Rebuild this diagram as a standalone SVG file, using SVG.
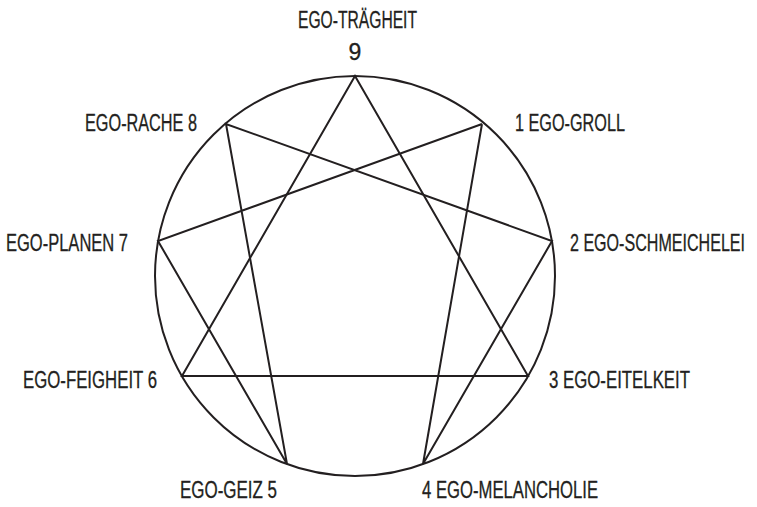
<svg xmlns="http://www.w3.org/2000/svg" width="757" height="507" viewBox="0 0 757 507">
<style>
.l{font-family:"Liberation Sans",Arial,sans-serif;font-size:23px;fill:#231f20;stroke:#231f20;stroke-width:0.3}
.s{fill:none;stroke:#231f20;stroke-width:2;stroke-linejoin:miter}
</style>
<rect width="757" height="507" fill="#fff"/>
<g id="circle"><circle class="s" cx="355" cy="276" r="200"/></g>
<g id="connectors">
<polygon class="s" points="355,76 528,376 182,376"/>
<polyline class="s" points="482,124 423,464 552,241 226,124 287,464 158,241 482,124"/>
</g>
<g id="n9"><text class="l" x="298" y="28" textLength="119" lengthAdjust="spacingAndGlyphs">EGO-TRÄGHEIT</text><text class="l" x="355" y="60" text-anchor="middle">9</text></g>
<g id="n8"><text class="l" x="85" y="131" textLength="112" lengthAdjust="spacingAndGlyphs">EGO-RACHE 8</text></g>
<g id="n1"><text class="l" x="515" y="131" textLength="110" lengthAdjust="spacingAndGlyphs">1 EGO-GROLL</text></g>
<g id="n7"><text class="l" x="6" y="251" textLength="122" lengthAdjust="spacingAndGlyphs">EGO-PLANEN 7</text></g>
<g id="n2"><text class="l" transform="translate(570,251) scale(0.7,1)" x="0" y="0" textLength="250" lengthAdjust="spacingAndGlyphs">2 EGO-SCHMEICHELEI</text></g>
<g id="n6"><text class="l" x="23" y="388" textLength="134" lengthAdjust="spacingAndGlyphs">EGO-FEIGHEIT 6</text></g>
<g id="n3"><text class="l" x="549" y="388" textLength="141" lengthAdjust="spacingAndGlyphs">3 EGO-EITELKEIT</text></g>
<g id="n5"><text class="l" x="180" y="498" textLength="97" lengthAdjust="spacingAndGlyphs">EGO-GEIZ 5</text></g>
<g id="n4"><text class="l" x="422" y="498" textLength="176" lengthAdjust="spacingAndGlyphs">4 EGO-MELANCHOLIE</text></g>
</svg>
